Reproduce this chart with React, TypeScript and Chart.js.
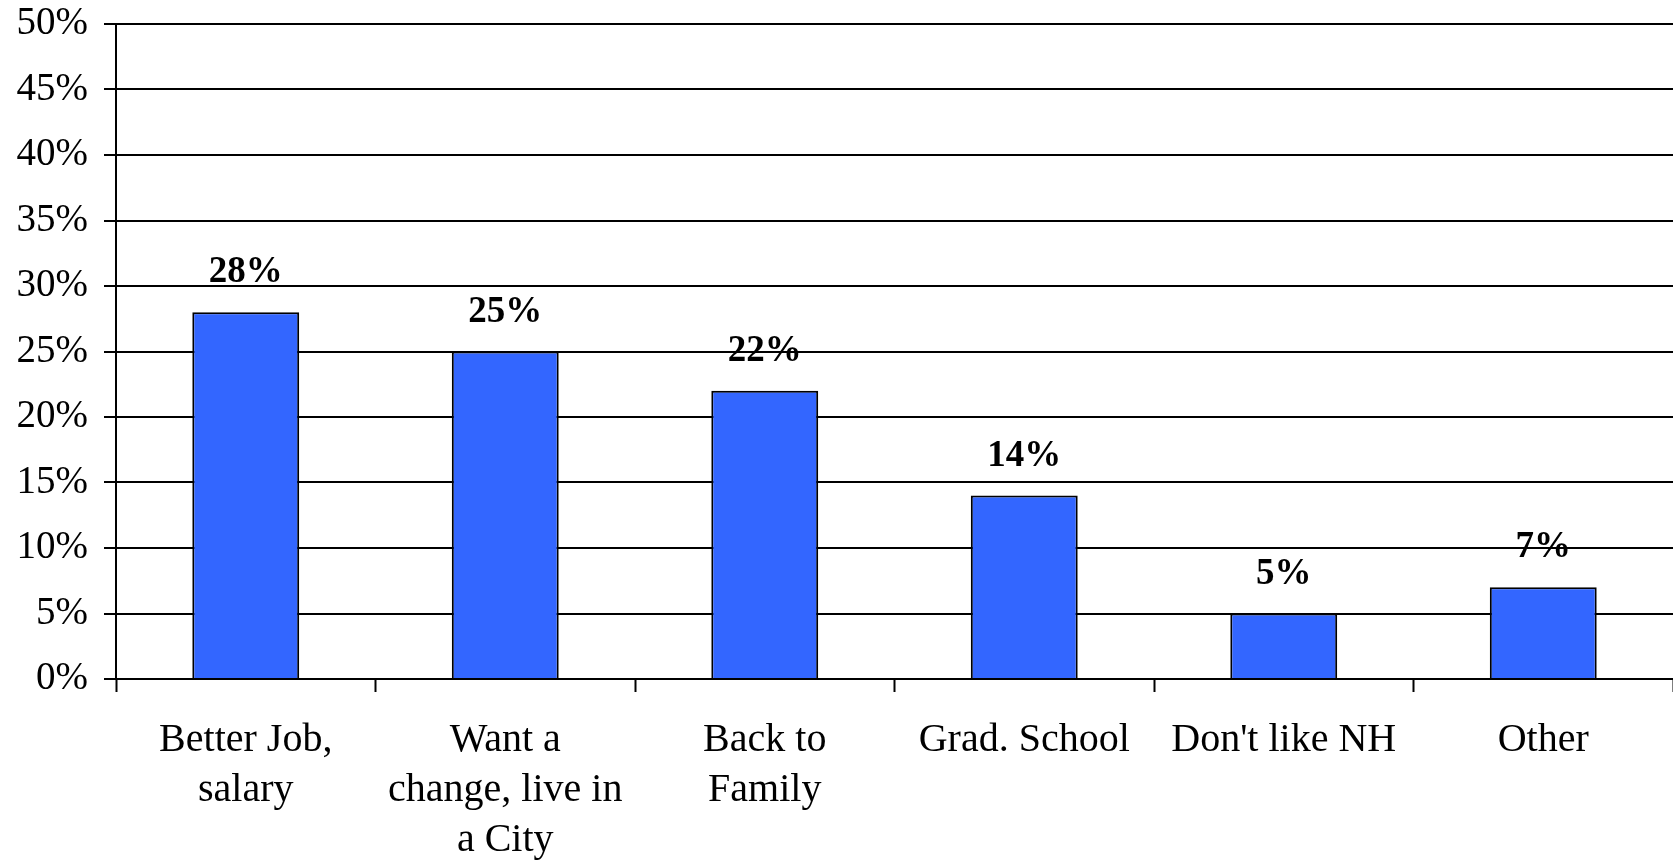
import React, { useEffect, useRef } from "react";
import { Chart, registerables } from "chart.js";

Chart.register(...registerables);

const categories: (string | string[])[] = [
  ["Better Job,", "salary"],
  ["Want a", "change, live in", "a City"],
  ["Back to", "Family"],
  "Grad. School",
  "Don't like NH",
  "Other",
];
const values: number[] = [28, 25, 22, 14, 5, 7];
const yTicks: number[] = [0, 5, 10, 15, 20, 25, 30, 35, 40, 45, 50];

const SERIF = "'Liberation Serif', 'DejaVu Serif', serif";

const valueLabels = {
  id: "valueLabels",
  afterDatasetsDraw(chart: any) {
    const ctx = chart.ctx;
    const meta = chart.getDatasetMeta(0);
    ctx.save();
    ctx.font = `bold 37px ${SERIF}`;
    ctx.fillStyle = "#000";
    ctx.textAlign = "center";
    ctx.textBaseline = "alphabetic";
    meta.data.forEach((bar: any, i: number) => {
      ctx.fillText(values[i] + "%", bar.x, bar.y - 30);
    });
    ctx.restore();
  },
};

export default function App() {
  const ref = useRef<HTMLCanvasElement>(null);
  useEffect(() => {
    if (!ref.current) return;
    const chart = new Chart(ref.current, {
      type: "bar",
      data: {
        labels: categories,
        datasets: [
          {
            data: values,
            backgroundColor: "#3366FF",
            borderColor: "#000",
            borderWidth: 2,
            barPercentage: 0.412,
            categoryPercentage: 1,
          },
        ],
      },
      options: {
        animation: false,
        responsive: true,
        maintainAspectRatio: false,
        layout: { padding: { top: 24, right: 0, left: 0, bottom: 0 } },
        plugins: {
          legend: { display: false },
          tooltip: { enabled: false },
        },
        scales: {
          x: {
            afterFit: (s: any) => {
              s.height = 182;
              s.paddingLeft = 0;
              s.paddingRight = 0;
            },
            grid: {
              display: true,
              drawOnChartArea: false,
              drawTicks: true,
              tickLength: 13,
              tickColor: "#000",
              tickWidth: 2,
              offset: true,
            },
            border: { display: true, color: "#000", width: 2 },
            ticks: {
              color: "#000",
              font: { family: SERIF, size: 40, lineHeight: 1.25 },
              maxRotation: 0,
              minRotation: 0,
              autoSkip: false,
              padding: 23,
            },
          },
          y: {
            min: 0,
            max: 50,
            afterFit: (s: any) => {
              s.width = 116;
              s.paddingTop = 0;
              s.paddingBottom = 0;
            },
            afterBuildTicks: (s: any) => {
              s.ticks = yTicks.map((v) => ({ value: v }));
            },
            grid: {
              color: "#000",
              lineWidth: 2,
              drawTicks: true,
              tickLength: 12,
              tickColor: "#000",
            },
            border: { display: true, color: "#000", width: 2 },
            ticks: {
              color: "#000",
              font: { family: SERIF, size: 39 },
              padding: 16,
              callback: (v: any) => v + "%",
            },
          },
        },
      },
      plugins: [valueLabels],
    });
    return () => chart.destroy();
  }, []);
  return (
    <div
      style={{
        position: "fixed",
        left: 0,
        top: 0,
        width: 1673,
        height: 861,
        background: "#fff",
      }}
    >
      <canvas ref={ref} />
    </div>
  );
}
